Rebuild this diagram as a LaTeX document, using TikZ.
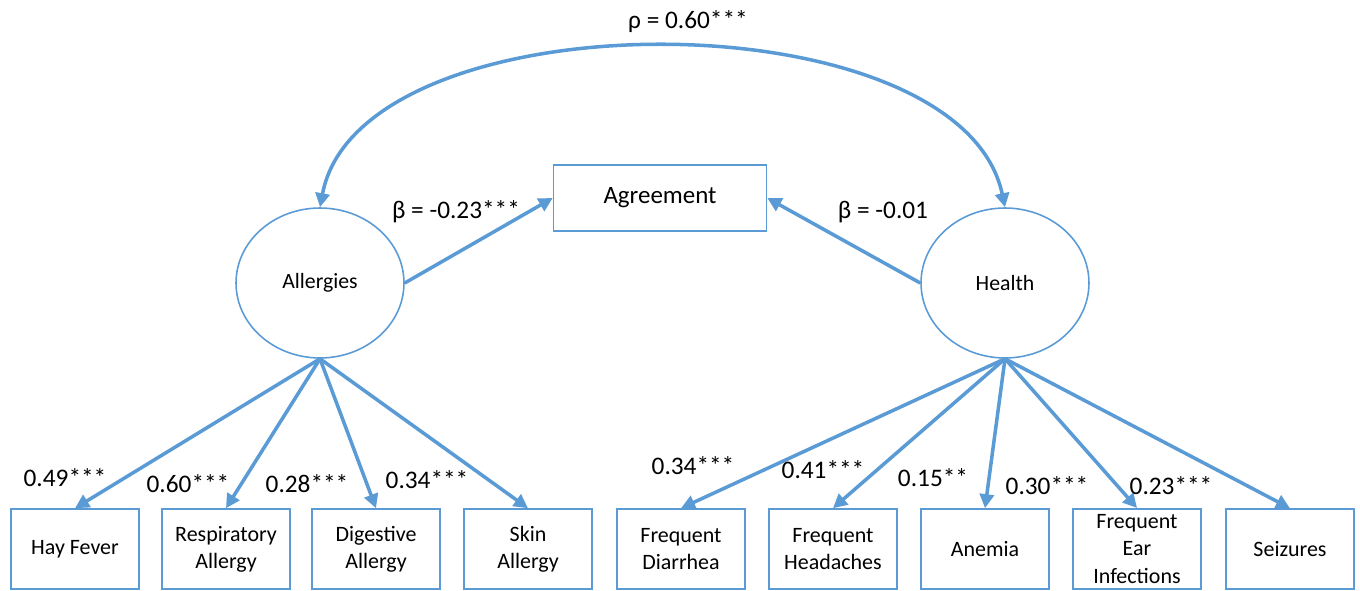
\documentclass[tikz,border=0pt]{standalone}
\usepackage{fontspec}
\setmainfont{Carlito}
\usepackage{xcolor}
\usetikzlibrary{positioning, calc, shapes.geometric, arrows.meta}

\definecolor{pathblue}{RGB}{91,155,213}

\tikzset{
    indicator/.style = {draw = pathblue, line width = 0.9pt, rectangle,
        minimum width = 2.56 cm, minimum height = 1.6 cm, align = center,
        font = \fontsize{12.5}{15.5}\selectfont},
    latent/.style = {draw = pathblue, line width = 0.9pt, ellipse,
        minimum width = 3.36 cm, minimum height = 3 cm,
        font = \fontsize{12.4}{15}\selectfont},
    outcome/.style = {draw = pathblue, line width = 0.9pt, rectangle,
        minimum width = 4.26 cm, minimum height = 1.32 cm,
        font = \fontsize{14.2}{16}\selectfont},
    loading/.style = {draw = pathblue, line width = 2pt,
        -{Triangle[length = 8pt, width = 8pt]}},
    coef/.style = {font = \fontsize{14.4}{16}\selectfont}
}

\begin{document}
\begin{tikzpicture}[x = 0.02 cm, y = -0.02 cm]
        \useasboundingbox (0,0) rectangle (1360,591);
        % latent factors and outcome
        \node [latent] (allergies) at (320,283) {Allergies};
        \node [latent] (health) at (1005,283) {Health};
        \node [outcome] (agreement) at (660,198) {Agreement};
        % allergy indicators
        \node [indicator] (hayfever) at (75,549) {Hay Fever};
        \node [indicator] (respiratory) at (226,549) {Respiratory\\Allergy};
        \node [indicator] (digestive) at (376,549) {Digestive\\Allergy};
        \node [indicator] (skin) at (528,549) {Skin\\Allergy};
        % health indicators
        \node [indicator] (diarrhea) at (681,549) {Frequent\\Diarrhea};
        \node [indicator] (headaches) at (833,549) {Frequent\\Headaches};
        \node [indicator] (anemia) at (985,549) {Anemia};
        \node [indicator] (ear) at (1137,549) {Frequent\\Ear\\Infections};
        \node [indicator] (seizures) at (1290,549) {Seizures};
        % correlation
        \draw [loading, {Triangle[length = 8pt, width = 8pt]}-{Triangle[length
        = 8pt, width = 8pt]}] (allergies.north) .. controls +(40,-213) and
        +(-45,-213) .. (health.north);
        \node [coef] (rho) at (688,22) {ρ = 0.60***};
        % regressions
        \draw [loading] (allergies.east) -- (agreement.west);
        \draw [loading] (health.west) -- (agreement.east);
        \node [coef] (betaA) at (456,212) {β = -0.23***};
        \node [coef] (betaH) at (883,212) {β = -0.01};
        % loadings
        \draw [loading] (allergies.south) -- (hayfever.north);
        \draw [loading] (allergies.south) -- (respiratory.north);
        \draw [loading] (allergies.south) -- (digestive.north);
        \draw [loading] (allergies.south) -- (skin.north);
        \draw [loading] (health.south) -- (diarrhea.north);
        \draw [loading] (health.south) -- (headaches.north);
        \draw [loading] (health.south) -- (anemia.north);
        \draw [loading] (health.south) -- (ear.north);
        \draw [loading] (health.south) -- (seizures.north);
        \node [coef] (lhay) at (65,478) {0.49***};
        \node [coef] (lresp) at (188,484) {0.60***};
        \node [coef] (ldig) at (307,484) {0.28***};
        \node [coef] (lskin) at (427,480) {0.34***};
        \node [coef] (ldia) at (693,466) {0.34***};
        \node [coef] (lhead) at (823,470) {0.41***};
        \node [coef] (lane) at (933,478) {0.15**};
        \node [coef] (lear) at (1047,486) {0.30***};
        \node [coef] (lsei) at (1171,486) {0.23***};
\end{tikzpicture}
\end{document}
